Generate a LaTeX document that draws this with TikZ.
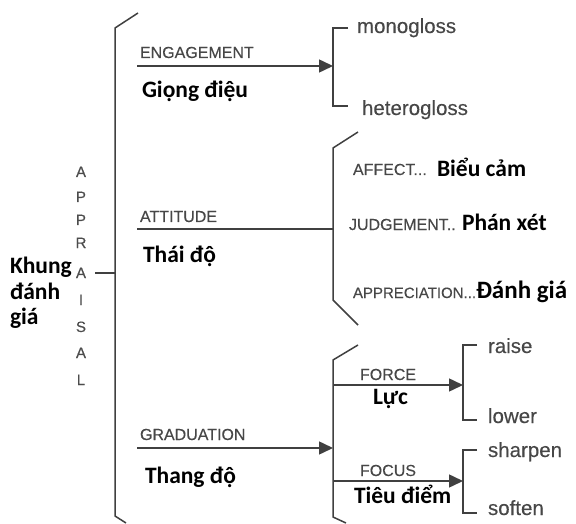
\documentclass[tikz,border=0pt]{standalone}
\usepackage{fontspec}
\setmainfont{Carlito}
\newfontfamily\enfont[FakeBold=0.3]{Liberation Sans}
\usetikzlibrary{arrows.meta}

\begin{document}
\begin{tikzpicture}[x=1pt, y=-1pt,
  every node/.style={inner sep=0pt, outer sep=0pt, anchor=base west},
  tag/.style={font=\enfont\fontsize{16}{18}\selectfont, text=black!72},
  leaf/.style={font=\enfont\fontsize{20.5}{24}\selectfont, text=black!72},
  viet/.style={font=\bfseries\fontsize{23.5}{27}\selectfont},
  letter/.style={font=\enfont\fontsize{15}{17}\selectfont, text=black!70, anchor=base},
  wire/.style={draw=black!75, line width=1.5pt},
  arrow/.style={wire, -{Triangle[length=14pt, width=13pt]}}
]
\useasboundingbox (0,0) rectangle (576,524);

\node[viet] (khung) at (10,273) {Khung};
\node[viet] (danh) at (10,299) {đánh};
\node[viet] (gia) at (10,324) {giá};
\foreach \ch/\yy in {A/177, P/202, P/225, R/248, A/278, I/305, S/332, A/358, L/385}
  \node[letter] (ap-\yy) at (81,\yy) {\ch};

\coordinate (root) at (115,273);
\coordinate (tick) at (95,273);
\draw[wire] (tick) -- (root);
\draw[wire] (138,13) -- (115,28) -- (115,516) -- (126,523);

% engagement
\node[tag] (eng) at (140,58) {ENGAGEMENT};
\node[viet] (engvn) at (142,98) {Giọng điệu};
\coordinate (e0) at (137,66);
\coordinate (e1) at (333,66);
\draw[arrow] (e0) -- (e1);
\draw[wire] (348,28) -- (333,28) -- (333,106) -- (348,106);
\node[leaf] (mono) at (357,33) {monogloss};
\node[leaf] (hetero) at (362,115) {heterogloss};

% attitude
\node[tag] (att) at (140,222) {ATTITUDE};
\node[viet] (attvn) at (143,262) {Thái độ};
\coordinate (a0) at (137,229);
\coordinate (a1) at (333,229);
\draw[wire] (a0) -- (a1);
\draw[wire] (358,132) -- (333,148) -- (333,300) -- (358,325);
\node[tag] (affect) at (353,175) {AFFECT...};
\node[viet] (affectvn) at (437,177) {Biểu cảm};
\node[tag] (judge) at (349,230) {JUDGEMENT..};
\node[viet] (judgevn) at (462,230) {Phán xét};
\node[tag, font=\enfont\fontsize{15}{18}\selectfont] (apprec) at (353,298) {APPRECIATION...};
\node[viet, font=\bfseries\fontsize{25}{28}\selectfont] (apprecvn) at (476,298) {Đánh giá};

% graduation
\node[tag] (grad) at (140,440) {GRADUATION};
\node[viet] (gradvn) at (145,483) {Thang độ};
\coordinate (g0) at (137,448);
\coordinate (g1) at (333,448);
\draw[arrow] (g0) -- (g1);
\draw[wire] (358,345) -- (333,360) -- (333,517) -- (346,523);

\node[tag] (force) at (360,380) {FORCE};
\node[viet] (forcevn) at (373,404) {Lực};
\coordinate (f0) at (333,385);
\coordinate (f1) at (463,385);
\draw[arrow] (f0) -- (f1);
\draw[wire] (477,345) -- (463,345) -- (463,420) -- (477,420);
\node[leaf] (raise) at (488,353) {raise};
\node[leaf] (lower) at (488,423) {lower};

\node[tag] (focus) at (360,476) {FOCUS};
\node[viet] (focusvn) at (354,503) {Tiêu điểm};
\coordinate (c0) at (333,481);
\coordinate (c1) at (463,481);
\draw[arrow] (c0) -- (c1);
\draw[wire] (477,450) -- (463,450) -- (463,513) -- (477,513);
\node[leaf] (sharpen) at (488,457) {sharpen};
\node[leaf] (soften) at (488,515) {soften};
\end{tikzpicture}
\end{document}
